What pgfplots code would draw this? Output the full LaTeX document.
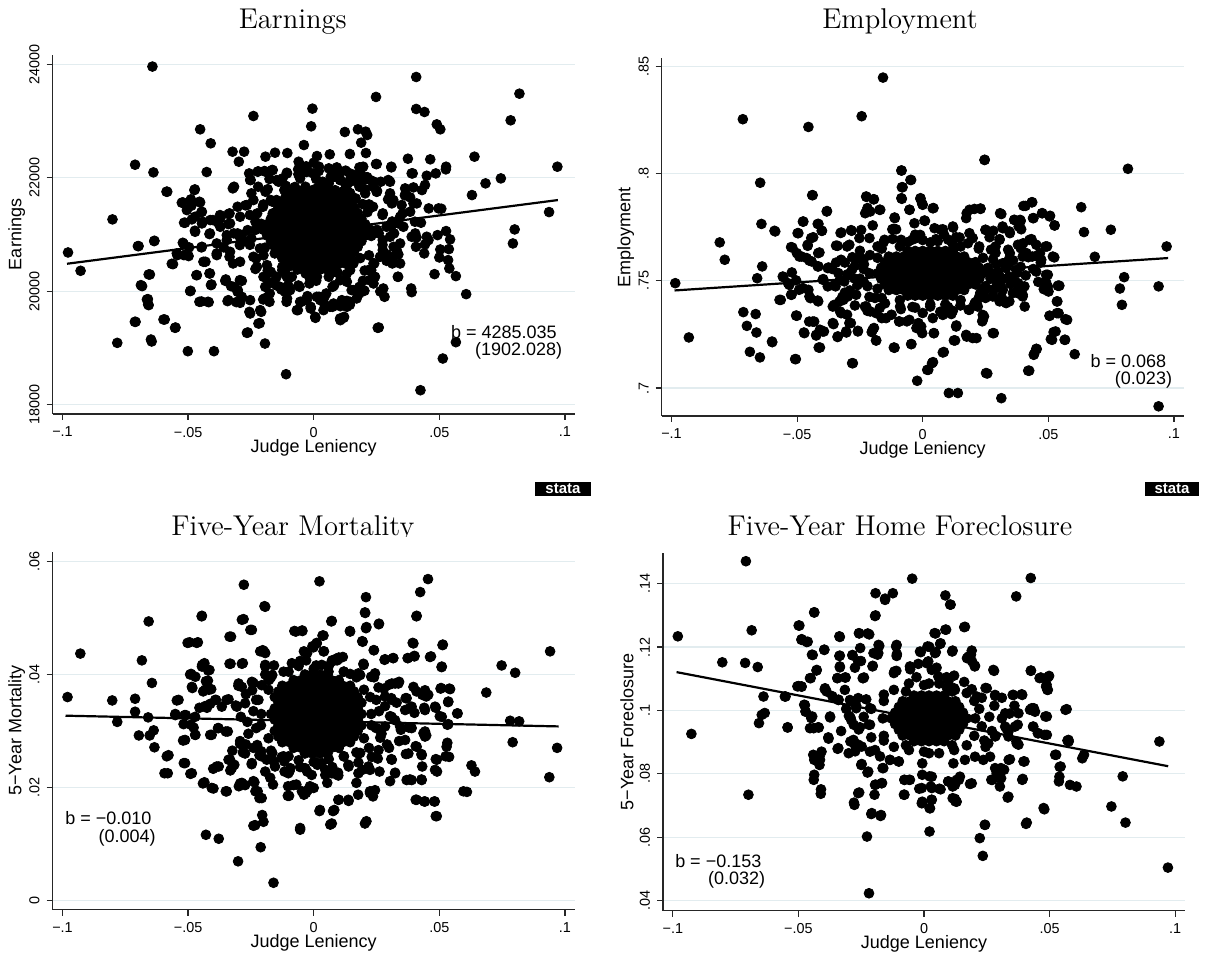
\documentclass[border=0pt]{standalone}
\usepackage{fontspec}
\usepackage{pgfplots}
\pgfplotsset{compat=1.18}
\newfontfamily\hv{Liberation Sans}
\definecolor{gridc}{RGB}{226,236,239}
\tikzset{ann/.style={font=\hv\fontsize{9}{10}\selectfont, anchor=east, inner sep=0pt}}
\pgfplotsset{
 stpanel/.style={
  scale only axis, width=261pt, height=178.85pt,
  axis x line*=bottom, axis y line*=left,
  axis line style={line width=0.65pt, black!85},
  xmin=-0.1039, xmax=0.1039,
  scaled x ticks=false, scaled y ticks=false,
  xtick={-0.1,-0.05,0,0.05,0.1},
  xticklabels={{−.1},{−.05},0,.05,.1},
  tick align=outside, major tick length=3pt,
  tick style={line width=0.6pt, black!85},
  ymajorgrids, major grid style={gridc, line width=0.6pt},
  ticklabel style={font=\hv\fontsize{7.2}{8}\selectfont},
  yticklabel style={rotate=90, anchor=south},
  label style={font=\hv\fontsize{9}{10}\selectfont},
  xlabel={Judge Leniency},
  xlabel style={at={(axis description cs:0.5,-0.094)}, anchor=center},
  ylabel style={at={(axis description cs:-0.069,0.5)}, anchor=center},
 },
 dots/.style={only marks, mark=*, mark size=2.45pt, mark options={fill=black, draw=none}},
 fitl/.style={black, line width=1.1pt, no marks},
}
\begin{document}
\begin{tikzpicture}
% ---------------- Panel 1: Earnings
\begin{axis}[stpanel, at={(26.35pt,271pt)}, anchor=south west, height=179.5pt,
 ymin=17834, ymax=24164, ytick={18000,20000,22000,24000},
 yticklabels={18000,20000,22000,24000}, ylabel={Earnings}]
\addplot[dots] coordinates {
(-0.0642,23960) (0.0408,23776) (0.0248,23424) (0.0819,23482) (-0.0005,23218) (0.0408,23212) (0.0441,23159) (-0.024,23088) (0.0784,23012) (-0.001,22906) (0.049,22941) (0.0504,22853) (-0.0452,22853) (0.0124,22806) (0.0176,22853) (0.0207,22812) (0.0213,22753) (-0.041,22606) (-0.0039,22576) (0.0189,22618) (-0.0323,22459) (-0.0277,22459) (-0.0154,22441) (-0.0105,22435) (-0.0298,22282) (-0.0192,22371) (0.0064,22412) (0.0144,22418) (0.0208,22435) (0.0013,22382) (-0.006,22282) (0,22265) (0.0375,22335) (0.0464,22324) (0.064,22371) (-0.0711,22229) (-0.0638,22094) (-0.0426,22100) (0.0251,22241) (0.0309,22194) (0.0186,22176) (0.0394,22076) (0.0527,22194) (0.0526,22147) (0.0486,22076) (0.045,22035) (0.097,22194) (0.0745,21988) (0.0684,21900) (0.063,21694) (0.0937,21394) (0.08,21088) (0.0793,20841) (0.0566,20265) (0.0607,19947) (0.039,19982) (0.0336,20253) (0.0265,19994) (0.0282,19900) (0.0202,20006) (0.0259,19359) (0.0566,19100) (0.0514,18812) (0.0425,18253) (-0.011,18535) (-0.0194,19076) (-0.0262,19271) (-0.0215,19435) (-0.0253,19606) (-0.0209,19635) (-0.0063,19665) (0.0007,19529) (-0.0012,19694) (0.0075,19724) (0.0106,19735) (0.0119,19529) (0.0106,19488) (0.0144,19759) (0.0132,19829) (0.0026,19841) (0.0044,19912) (-0.0049,19812) (-0.0025,19912) (0.0021,19900) (-0.0106,19871) (-0.0108,19812) (-0.0201,19853) (-0.0129,20029) (-0.0175,19959) (-0.0102,20106) (-0.0148,20100) (-0.0308,19806) (-0.0286,19900) (-0.034,19841) (-0.0302,20018) (-0.0294,20194) (-0.035,20206) (-0.0329,20088) (-0.0397,18941) (-0.0501,18941) (-0.055,19359) (-0.0593,19500) (-0.0645,19112) (-0.0782,19088) (-0.0709,19459) (-0.0657,19753) (-0.066,19859) (-0.0683,20088) (-0.0652,20294) (-0.0447,19818) (-0.0418,19806) (-0.049,20006) (-0.0407,20118) (-0.0467,20282) (-0.0413,20312) (-0.0431,20518) (-0.056,20476) (-0.0543,20635) (-0.0517,20635) (-0.0447,20771) (-0.0386,20665) (-0.0335,20606) (-0.0321,20488) (-0.0413,21018) (-0.0517,20829) (-0.0496,20771) (-0.0697,20794) (-0.0634,20888) (-0.0928,20359) (-0.0978,20682) (-0.0801,21265) (-0.0583,21753) (-0.0521,21565) (-0.049,21588) (-0.0452,21565) (-0.0487,21506) (-0.0473,21794) (-0.0447,21394) (-0.0512,21206) (-0.0472,21312) (-0.0473,21065) (-0.0442,21224) (-0.0401,21253) (-0.0382,21212) (-0.0335,21371) (-0.0373,21341) (-0.034,21182) (-0.0317,21841) (-0.0318,21018) (-0.0346,20988) (-0.0294,20812) (-0.0262,20876) (-0.0358,20771) (-0.0251,21959) (-0.0248,21724) (-0.0221,21841) (-0.0192,21753) (-0.024,21606) (-0.0257,22076) (-0.0223,22106) (-0.0163,22135) (-0.0192,22106) (-0.014,21929) (-0.0124,21988) (-0.0106,22076) (-0.0117,21782) (-0.0148,21606) (-0.0062,22147) (-0.0056,22018) (-0.0025,22135)
(0.0363,21688) (0.0397,21547) (0.0431,21782) (0.0443,21871) (0.0458,21459) (0.0497,21459) (0.0508,21453) (0.0427,21206) (0.0404,21018) (0.0409,20947) (0.045,20959) (0.0457,20900) (0.0443,20824) (0.044,20665) (0.0493,20988) (0.0527,21059) (0.0543,20912) (0.0504,20735) (0.0538,20741) (0.05,20594) (0.0535,20547) (0.054,20400) (0.0481,20300) (0.0337,21194) (0.032,21018) (0.0354,21371) (0.0311,21547) (0.0296,21618) (0.0337,20647) (0.0318,20782) (0.0275,20724) (0.0241,20488) (0.0229,20371) (0.0244,20253) (0.0222,20194) (0.0182,20076) (0.0151,20018) (0.0182,19959) (0.029,20535) (0.0313,20488) (0.0366,21724) (0.0297,21959) (0.0267,21929) (0.0236,21841) (0.0251,21753) (0.0205,21724) (0.0225,21959) (0.019,22047) (0.0144,21959) (0.0106,21959) (0.0075,22006) (0.006,21900) (0.0113,21753) (0.0167,21635) (0.0195,21535) (0.0236,21488) (0.0275,21371) (0.029,21135) (0.0259,21018) (0.0229,21076) (0.0275,20900) (0.0305,21135)
(0.0144,22076) (0.0175,21929) (0.0197,22194) (0.0106,22100) (0.016,22050) (0.0213,22010) (0.0128,21870)
(-0.0171,21606) (-0.0202,21488) (-0.0225,21371) (-0.0232,21224) (-0.0263,21076) (-0.0286,20988) (-0.0248,20929) (-0.0214,20753) (-0.0229,20576) (-0.0186,20459) (-0.0171,20341) (-0.0192,20253) (-0.0148,20253) (-0.0125,20371) (-0.0087,20253) (-0.0102,20429) (-0.0178,20135) (-0.0109,20547) (-0.0155,20665) (-0.014,21488) (-0.0117,21606) (-0.0163,21371) (-0.0186,21135)
(-0.0032,20312) (0.0013,20253) (0.006,20253) (0.009,20341) (0.0106,20194) (-0.0017,20135) (-0.0056,20076) (0.0075,20076)
(-0.0078,21782) (-0.0033,21841) (0.0013,21812) (0.0052,21782) (0.009,21724) (0.0136,21753) (0.0182,21841) (-0.0102,21694) (-0.0017,21665) (0.0036,21929) (-0.0002,22076) (0.006,22165) (0.0083,22029) (0.0021,22194)
};
\addplot[dots] coordinates {
(-0.0221,22112) (-0.0196,22118) (-0.0166,22135) (-0.0107,22088) (-0.0028,22100) (0.002,22118) (0.0092,22182) (0.0182,22182) (0.0248,22241) (0.0309,22182) (0.039,22076)
(-0.0253,21959) (-0.0147,21959) (-0.0054,21988) (0.0068,22018) (0.0105,21959) (0.0145,21929) (0.0179,21929) (0.0206,21971) (0.024,21929) (0.0304,21929) (0.0364,21812) (0.0397,21829) (-0.0322,21812) (-0.0475,21782) (-0.0586,21753) (0.0251,21753) (0.0304,21724)
(-0.0525,21559) (-0.0489,21618) (-0.0455,21576) (-0.0505,21429) (-0.0372,21282) (-0.0339,21359) (-0.0303,21488) (-0.0266,21518) (0.0317,21606) (0.035,21518) (0.0384,21653) (0.041,21547)
(-0.0516,21206) (-0.0485,21265) (-0.0445,21400) (-0.0412,21253) (-0.0445,21194) (-0.0372,21135) (-0.0333,21194) (-0.0293,21312) (0.0344,21312) (0.0384,21400) (0.0403,21224) (0.0311,21165) (0.0357,21135)
(-0.0472,21047) (-0.0415,21006) (-0.0521,20853) (-0.0635,20882) (-0.07,20794) (-0.0445,20782) (-0.0386,20841) (-0.0346,20900) (-0.0303,21018) (0.0304,20959) (0.0344,20841) (0.039,20959) (0.0407,20782) (0.033,20724)
(-0.0545,20665) (-0.0498,20618) (-0.0386,20635) (-0.0333,20694) (-0.0439,20518) (-0.0293,20518) (-0.024,20606) (0.0264,20606) (0.0317,20606) (0.0344,20488) (0.0238,20488) (0.0218,20371) (0.0158,20488) (0.0145,20371)
(-0.0565,20482) (-0.0465,20282) (-0.0415,20312) (-0.0657,20294) (-0.0409,20106) (-0.0352,20182) (-0.0319,20076) (-0.0286,20182) (-0.0226,20429) (-0.02,20253) (-0.0193,20076) (-0.016,20165) (-0.0134,20076) (-0.0107,20253) (-0.0094,20018) (0.0132,20165) (0.0158,20018) (0.0198,20018) (0.0238,20135) (0.0277,20047) (0.0335,20253) (0.0388,20047)
(-0.0688,20106) (-0.0492,20000) (-0.0455,19812) (-0.0421,19812) (-0.0343,19824) (-0.0303,19988) (-0.0293,19794) (-0.0253,19841) (-0.0196,19871) (-0.0176,19812) (-0.0114,19988) (-0.0054,19812) (-0.0028,19841) (0.0012,19900) (0.0039,19812) (0.0079,19782) (0.0112,19841) (0.0145,19812) (0.0171,19871)
(-0.0664,19853) (-0.0659,19765) (-0.0712,19459) (-0.0598,19500) (-0.0552,19353) (-0.0256,19635) (-0.0213,19665) (-0.022,19429) (-0.0266,19265) (-0.0067,19665) (-0.0012,19724) (0.0006,19547) (0.0039,19665) (0.0065,19724) (0.0105,19518) (0.0121,19547) (0.0132,19724) (0.0255,19353) (-0.0648,19147)
(0.0252,21080) (0.0274,21343) (0.0220,21529) (0.0203,21797) (0.0131,21857) (0.0081,22060) (0.001,21977) (-0.0061,22060) (-0.0111,21857) (-0.0183,21797) (-0.0200,21529) (-0.0254,21343) (-0.0232,21080) (-0.0254,20817) (-0.0200,20632) (-0.0183,20363) (-0.0111,20303) (-0.0061,20100) (0.001,20183) (0.0081,20100) (0.0131,20303) (0.0203,20363) (0.0220,20632) (0.0274,20817)
(0.0312,21228) (0.0252,21769) (0.0127,22125) (-0.003,22201) (-0.0176,21977) (-0.0272,21513) (-0.0292,20932) (-0.0232,20391) (-0.0107,20035) (0.005,19959) (0.0196,20183) (0.0292,20647)
(0.0214,21393) (0.0145,21730) (0.0039,21892) (-0.0075,21837) (-0.0165,21578) (-0.0209,21187) (-0.0194,20767) (-0.0125,20430) (-0.0019,20268) (0.0095,20323) (0.0185,20582) (0.0229,20973)
};
\addplot[dots] coordinates {
(-0.020,21080) (-0.017,21080) (-0.014,21080) (-0.011,21080) (-0.008,21080) (-0.005,21080) (-0.002,21080) (0.001,21080) (0.004,21080) (0.007,21080) (0.010,21080) (0.013,21080) (0.016,21080) (0.019,21080) (0.022,21080)
(-0.0185,21180) (-0.0155,21180) (-0.0125,21180) (-0.0095,21180) (-0.0065,21180) (-0.0035,21180) (-0.0005,21180) (0.0025,21180) (0.0055,21180) (0.0085,21180) (0.0115,21180) (0.0145,21180) (0.0175,21180) (0.0205,21180)
(-0.0185,20980) (-0.0155,20980) (-0.0125,20980) (-0.0095,20980) (-0.0065,20980) (-0.0035,20980) (-0.0005,20980) (0.0025,20980) (0.0055,20980) (0.0085,20980) (0.0115,20980) (0.0145,20980) (0.0175,20980) (0.0205,20980)
(-0.017,21280) (-0.014,21280) (-0.011,21280) (-0.008,21280) (-0.005,21280) (-0.002,21280) (0.001,21280) (0.004,21280) (0.007,21280) (0.010,21280) (0.013,21280) (0.016,21280) (0.019,21280)
(-0.017,20880) (-0.014,20880) (-0.011,20880) (-0.008,20880) (-0.005,20880) (-0.002,20880) (0.001,20880) (0.004,20880) (0.007,20880) (0.010,20880) (0.013,20880) (0.016,20880) (0.019,20880)
(-0.0155,21380) (-0.0125,21380) (-0.0095,21380) (-0.0065,21380) (-0.0035,21380) (-0.0005,21380) (0.0025,21380) (0.0055,21380) (0.0085,21380) (0.0115,21380) (0.0145,21380) (0.0175,21380)
(-0.0155,20780) (-0.0125,20780) (-0.0095,20780) (-0.0065,20780) (-0.0035,20780) (-0.0005,20780) (0.0025,20780) (0.0055,20780) (0.0085,20780) (0.0115,20780) (0.0145,20780) (0.0175,20780)
(-0.014,21480) (-0.011,21480) (-0.008,21480) (-0.005,21480) (-0.002,21480) (0.001,21480) (0.004,21480) (0.007,21480) (0.010,21480) (0.013,21480) (0.016,21480)
(-0.014,20680) (-0.011,20680) (-0.008,20680) (-0.005,20680) (-0.002,20680) (0.001,20680) (0.004,20680) (0.007,20680) (0.010,20680) (0.013,20680) (0.016,20680)
(-0.0125,21580) (-0.0095,21580) (-0.0065,21580) (-0.0035,21580) (-0.0005,21580) (0.0025,21580) (0.0055,21580) (0.0085,21580) (0.0115,21580) (0.0145,21580)
(-0.0125,20580) (-0.0095,20580) (-0.0065,20580) (-0.0035,20580) (-0.0005,20580) (0.0025,20580) (0.0055,20580) (0.0085,20580) (0.0115,20580) (0.0145,20580)
(-0.011,21680) (-0.008,21680) (-0.005,21680) (-0.002,21680) (0.001,21680) (0.004,21680) (0.007,21680) (0.010,21680) (0.013,21680)
(-0.011,20480) (-0.008,20480) (-0.005,20480) (-0.002,20480) (0.001,20480) (0.004,20480) (0.007,20480) (0.010,20480) (0.013,20480)
(-0.0065,21780) (-0.0035,21780) (-0.0005,21780) (0.0025,21780) (0.0055,21780) (0.0085,21780)
(-0.0065,20380) (-0.0035,20380) (-0.0005,20380) (0.0025,20380) (0.0055,20380) (0.0085,20380)
};
\addplot[fitl] coordinates {(-0.0982,20483) (0.0972,21606)};
\node[ann] at (axis cs:0.0969,19283) {b = 4285.035};
\node[ann] at (axis cs:0.0991,18941) {(1902.028)};
\end{axis}
% ---------------- Panel 2: Employment
\begin{axis}[stpanel, at={(330.85pt,270pt)}, anchor=south west,
 ymin=0.687, ymax=0.8537, ytick={0.7,0.75,0.8,0.85},
 yticklabels={.7,.75,.8,.85}, ylabel={Employment}]
\addplot[dots] coordinates {
(-0.0158,0.8447) (-0.0716,0.8253) (-0.0243,0.8267) (-0.0455,0.8217) (0.0247,0.8064) (0.0817,0.8022) (-0.0084,0.8014) (-0.0046,0.797) (-0.0647,0.7957) (-0.008,0.7936) (-0.0438,0.7899) (-0.0224,0.7891) (-0.0194,0.788) (-0.0083,0.7882) (-0.0009,0.7882) (-0.0002,0.7859) (-0.0052,0.7831) (0.0043,0.7839) (-0.0381,0.7825) (-0.0169,0.7831) (-0.022,0.7839) (-0.0209,0.7823) (0.0631,0.7843) (0.0401,0.7849) (0.0436,0.7866) (0.0313,0.7811) (0.0175,0.7815) (0.0206,0.7835) (0.023,0.7835) (0.0476,0.7815) (0.0507,0.7803) (0.0441,0.7792) (0.0364,0.7784) (0.039,0.7779) (0.0525,0.7758) (-0.0111,0.7792) (0.0009,0.7779) (-0.0642,0.7765) (-0.0415,0.7765) (0.0642,0.7727) (0.0749,0.7738) (-0.0587,0.773) (-0.0324,0.7725) (-0.0283,0.7733) (-0.0495,0.7722) (-0.0401,0.7733) (-0.0121,0.774) (-0.0106,0.774) (0.0121,0.7748) (0.0072,0.7738) (0.0347,0.7722) (0.0382,0.7753) (0.0318,0.7753) (0.0281,0.7733) (0.025,0.7738) (-0.0475,0.7776) (-0.0436,0.7703) (-0.0458,0.7663) (-0.0519,0.7655) (-0.0808,0.7679) (-0.0788,0.7598) (-0.0339,0.7663) (-0.0301,0.766) (0.0685,0.7612) (0.0971,0.766) (0.0802,0.7517) (0.0785,0.7464) (0.0793,0.7388) (0.0939,0.7474) (0.0939,0.6915) (0.0605,0.7158) (0.0567,0.7225) (0.0575,0.7318) (0.0521,0.7261) (0.051,0.7228) (0.0505,0.7337) (0.0541,0.7349) (0.0536,0.7404) (0.0544,0.7477) (0.0501,0.745) (0.0482,0.7461) (0.0498,0.7528) (0.049,0.7497) (0.0495,0.766) (0.0524,0.7609) (0.0452,0.7183) (0.0444,0.716) (0.0424,0.7081) (0.0406,0.738) (0.0359,0.7443) (0.0398,0.7435) (0.0333,0.7402) (0.0283,0.7461) (0.0313,0.7427) (0.0257,0.7068) (0.0313,0.6953) (0.0283,0.7256) (0.0237,0.7311) (0.0244,0.7334) (0.0214,0.7233) (0.0175,0.724) (0.0229,0.7443) (0.0183,0.7365) (0.0206,0.7393) (0.014,0.6977) (0.0104,0.6977) (0.0129,0.7222) (0.0084,0.7168) (0.0041,0.7121) (0.0022,0.7085) (-0.0022,0.7034) (-0.0045,0.7205) (0.0134,0.7292) (0.0114,0.7345) (0.0083,0.735) (0.0045,0.7256) (-0.0002,0.7256) (-0.0025,0.728) (-0.0017,0.7303) (-0.0063,0.7311) (-0.0094,0.7311) (-0.0124,0.7342) (-0.0163,0.7326) (-0.0171,0.7373) (-0.0209,0.7357) (-0.023,0.738) (-0.0194,0.728) (-0.0203,0.7261) (-0.0186,0.7222) (-0.0112,0.7188) (-0.0278,0.7116) (-0.0258,0.7267) (-0.0286,0.7303) (-0.0304,0.7259) (-0.0339,0.7238) (-0.0355,0.7298) (-0.0352,0.7388) (-0.0329,0.7357) (-0.0301,0.7342) (-0.0316,0.7411) (-0.0409,0.7272) (-0.0424,0.7245) (-0.0393,0.7264) (-0.0409,0.7189) (-0.0432,0.731) (-0.0452,0.731) (-0.0473,0.7259) (-0.0501,0.7337) (-0.0505,0.7135) (-0.0416,0.7404) (-0.0447,0.7419) (-0.0455,0.7458) (-0.0492,0.7458) (-0.0522,0.7435) (-0.0565,0.7411) (-0.0555,0.7517) (-0.0536,0.7489) (-0.0504,0.7502) (-0.0521,0.7539) (-0.0482,0.7613) (-0.0501,0.7629) (-0.0462,0.7606) (-0.0442,0.759) (-0.0416,0.7629) (-0.0415,0.7567) (-0.0375,0.7562) (-0.0396,0.7508) (-0.0378,0.7474) (-0.0336,0.7536) (-0.0347,0.7474) (-0.0659,0.7512) (-0.0639,0.7567) (-0.0714,0.7354) (-0.0665,0.7345) (-0.07,0.729) (-0.0662,0.7259) (-0.0688,0.7169) (-0.0648,0.7143) (-0.0599,0.7214) (-0.0931,0.7236) (-0.0985,0.7489) (0.0347,0.7629) (0.0344,0.7582) (0.0375,0.7536) (0.038,0.7489) (0.039,0.7652) (0.0413,0.7629) (0.0436,0.7613) (0.0452,0.7668) (0.0433,0.7694) (0.0467,0.7629) (0.0306,0.7691) (0.029,0.766) (0.0375,0.745) (0.0344,0.752)
(-0.012,0.7695) (-0.006,0.768) (0,0.769) (0.006,0.7685) (0.012,0.767) (0.018,0.7675) (0.0225,0.766) (-0.018,0.766) (-0.003,0.7715) (0.0085,0.7715)
(-0.015,0.7395) (-0.009,0.738) (-0.003,0.7375) (0.003,0.738) (0.009,0.739) (0.015,0.7385) (0.021,0.740) (0.025,0.742) (-0.019,0.742) (0,0.735) (0.012,0.736)
(-0.0235,0.7555) (-0.025,0.751) (-0.022,0.7475) (-0.0235,0.760) (-0.027,0.757) (-0.026,0.748) (-0.03,0.753) (-0.029,0.7455) (-0.028,0.761)
(0.026,0.756) (0.027,0.751) (0.025,0.7475) (0.028,0.760) (0.030,0.754) (0.031,0.748) (0.029,0.763) (0.033,0.757) (0.032,0.751)
(-0.031,0.7585) (-0.028,0.7555) (-0.033,0.7505) (-0.0265,0.7435) (-0.031,0.7445) (-0.036,0.7555) (-0.025,0.764) (-0.021,0.762) (-0.022,0.736) (-0.027,0.7385) (-0.032,0.7425)
(0.036,0.7595) (0.039,0.7565) (0.041,0.7525) (0.035,0.7485) (0.038,0.746) (0.042,0.761) (0.044,0.7555) (0.046,0.7495) (0.047,0.7585) (0.034,0.7645) (0.04,0.7675)
};
\addplot[dots] coordinates {
(-0.0085,0.8014) (-0.0049,0.7970) (-0.0083,0.7936) (-0.0085,0.7885) (-0.0009,0.7885) (0.0000,0.7854) (-0.0053,0.7831) (0.0040,0.7838) (-0.0112,0.7795) (0.0007,0.7781) (-0.0033,0.7768) (-0.0116,0.7742) (-0.0225,0.7893) (-0.0196,0.7880) (-0.0219,0.7831) (-0.0172,0.7831) (-0.0229,0.7815) (-0.0382,0.7823) (-0.0440,0.7899) (-0.0477,0.7776) (-0.0418,0.7765) (-0.0498,0.7722) (-0.0402,0.7733) (-0.0327,0.7723) (-0.0285,0.7736) (-0.0245,0.7737) (-0.0199,0.7758) (0.0246,0.8063) (0.0186,0.7831) (0.0230,0.7837) (0.0173,0.7792) (0.0308,0.7815) (0.0365,0.7784) (0.0388,0.7784) (0.0434,0.7866) (0.0409,0.7849) (0.0475,0.7815) (0.0505,0.7800) (0.0439,0.7792) (0.0525,0.7758) (0.0319,0.7745) (0.0345,0.7730) (0.0392,0.7740) (0.0250,0.7737) (0.0186,0.7722) (0.0120,0.7753) (0.0080,0.7740) (0.0047,0.7745)
(-0.0590,0.7733) (-0.0524,0.7657) (-0.0444,0.7699) (-0.0458,0.7668) (-0.0411,0.7632) (-0.0491,0.7613) (-0.0451,0.7594) (-0.0345,0.7664) (-0.0292,0.7668) (-0.0252,0.7699) (-0.0212,0.7699) (-0.0152,0.7691) (-0.0086,0.7691) (-0.0026,0.7699) (0.0053,0.7694) (0.0133,0.7703) (0.0199,0.7699) (0.0266,0.7703) (0.0306,0.7694) (0.0379,0.7668) (0.0425,0.7691) (0.0489,0.7660) (0.0398,0.7613) (0.0452,0.7616) (0.0518,0.7613) (0.0472,0.7598)
(-0.0557,0.7520) (-0.0531,0.7481) (-0.0477,0.7466) (-0.0418,0.7567) (-0.0378,0.7559) (-0.0345,0.7585) (-0.0325,0.7598) (-0.0398,0.7505) (-0.0351,0.7481) (-0.0312,0.7497) (-0.0570,0.7411) (-0.0524,0.7435) (-0.0451,0.7427) (-0.0418,0.7408) (-0.0358,0.7380) (-0.0331,0.7404) (-0.0298,0.7427)
(0.0319,0.7582) (0.0372,0.7551) (0.0345,0.7605) (0.0306,0.7520) (0.0359,0.7505) (0.0405,0.7474) (0.0452,0.7543) (0.0491,0.7528) (0.0498,0.7474) (0.0538,0.7477) (0.0379,0.7442) (0.0398,0.7427) (0.0319,0.7458) (0.0345,0.7404) (0.0252,0.7458) (0.0279,0.7427) (0.0306,0.7404)
(-0.0504,0.7338) (-0.0438,0.7310) (-0.0471,0.7256) (-0.0424,0.7248) (-0.0398,0.7264) (-0.0358,0.7303) (-0.0338,0.7241) (-0.0305,0.7264) (-0.0258,0.7264) (-0.0292,0.7303) (-0.0325,0.7349) (-0.0199,0.7272) (-0.0185,0.7222) (-0.0225,0.7380) (-0.0185,0.7349) (-0.0146,0.7326) (-0.0093,0.7310) (-0.0053,0.7318) (-0.0006,0.7287) (0.0040,0.7326) (0.0080,0.7341) (0.0107,0.7365) (0.0133,0.7287) (0.0173,0.7248) (0.0199,0.7233) (0.0186,0.7365) (0.0219,0.7380) (0.0239,0.7341) (0.0239,0.7318) (0.0279,0.7256) (0.0332,0.7396)
(-0.0600,0.7217) (-0.0414,0.7189) (-0.0508,0.7135) (-0.0281,0.7116) (-0.0115,0.7189) (-0.0046,0.7205) (0.0044,0.7256) (0.0124,0.7222) (0.0080,0.7166) (0.0037,0.7116) (0.0018,0.7085) (0.0252,0.7070) (0.0420,0.7081) (0.0442,0.7155) (0.0454,0.7182) (0.0515,0.7225) (0.0529,0.7264) (0.0565,0.7225) (0.0568,0.7321) (0.0505,0.7337) (0.0534,0.7349) (0.0534,0.7404) (0.0541,0.7477) (0.0491,0.7458)
(0.0272,0.7535) (0.0294,0.7577) (0.0240,0.7607) (0.0223,0.7650) (0.0151,0.7660) (0.0101,0.7692) (0.003,0.7679) (-0.0041,0.7692) (-0.0091,0.7660) (-0.0163,0.7650) (-0.0180,0.7607) (-0.0234,0.7577) (-0.0212,0.7535) (-0.0234,0.7493) (-0.0180,0.7463) (-0.0163,0.7420) (-0.0091,0.7410) (-0.0041,0.7378) (0.003,0.7391) (0.0101,0.7378) (0.0151,0.7410) (0.0223,0.7420) (0.0240,0.7463) (0.0294,0.7493)
(0.0332,0.7559) (0.0272,0.7645) (0.0147,0.7702) (-0.001,0.7714) (-0.0156,0.7679) (-0.0252,0.7604) (-0.0272,0.7511) (-0.0212,0.7425) (-0.0087,0.7368) (0.007,0.7356) (0.0216,0.7391) (0.0312,0.7466)
};
\addplot[dots] coordinates {
(-0.018,0.7535) (-0.015,0.7535) (-0.012,0.7535) (-0.009,0.7535) (-0.006,0.7535) (-0.003,0.7535) (0,0.7535) (0.003,0.7535) (0.006,0.7535) (0.009,0.7535) (0.012,0.7535) (0.015,0.7535) (0.018,0.7535) (0.021,0.7535) (0.024,0.7535)
(-0.0165,0.7561) (-0.0135,0.7561) (-0.0105,0.7561) (-0.0075,0.7561) (-0.0045,0.7561) (-0.0015,0.7561) (0.0015,0.7561) (0.0045,0.7561) (0.0075,0.7561) (0.0105,0.7561) (0.0135,0.7561) (0.0165,0.7561) (0.0195,0.7561) (0.0225,0.7561)
(-0.0165,0.7509) (-0.0135,0.7509) (-0.0105,0.7509) (-0.0075,0.7509) (-0.0045,0.7509) (-0.0015,0.7509) (0.0015,0.7509) (0.0045,0.7509) (0.0075,0.7509) (0.0105,0.7509) (0.0135,0.7509) (0.0165,0.7509) (0.0195,0.7509) (0.0225,0.7509)
(-0.015,0.7587) (-0.012,0.7587) (-0.009,0.7587) (-0.006,0.7587) (-0.003,0.7587) (0,0.7587) (0.003,0.7587) (0.006,0.7587) (0.009,0.7587) (0.012,0.7587) (0.015,0.7587) (0.018,0.7587) (0.021,0.7587)
(-0.015,0.7483) (-0.012,0.7483) (-0.009,0.7483) (-0.006,0.7483) (-0.003,0.7483) (0,0.7483) (0.003,0.7483) (0.006,0.7483) (0.009,0.7483) (0.012,0.7483) (0.015,0.7483) (0.018,0.7483) (0.021,0.7483)
(-0.0135,0.7613) (-0.0105,0.7613) (-0.0075,0.7613) (-0.0045,0.7613) (-0.0015,0.7613) (0.0015,0.7613) (0.0045,0.7613) (0.0075,0.7613) (0.0105,0.7613) (0.0135,0.7613) (0.0165,0.7613)
(-0.0135,0.7457) (-0.0105,0.7457) (-0.0075,0.7457) (-0.0045,0.7457) (-0.0015,0.7457) (0.0015,0.7457) (0.0045,0.7457) (0.0075,0.7457) (0.0105,0.7457) (0.0135,0.7457) (0.0165,0.7457)
(-0.006,0.7639) (-0.003,0.7639) (0,0.7639) (0.003,0.7639) (0.006,0.7639) (0.009,0.7639) (0.012,0.7639)
(-0.006,0.7431) (-0.003,0.7431) (0,0.7431) (0.003,0.7431) (0.006,0.7431) (0.009,0.7431) (0.012,0.7431)
};
\addplot[fitl] coordinates {(-0.0988,0.7455) (0.0977,0.7606)};
\node[ann] at (axis cs:0.0971,0.7127) {b = 0.068};
\node[ann] at (axis cs:0.0994,0.7039) {(0.023)};
\end{axis}
% ---------------- Panel 3: Mortality
\begin{axis}[stpanel, at={(26.35pt,23.15pt)}, anchor=south west,
 ymin=-0.00167, ymax=0.0617, ytick={0,0.02,0.04,0.06},
 yticklabels={0,.02,.04,.06}, ylabel={5−Year Mortality}]
\addplot[dots] coordinates {
(-0.098,0.036) (-0.0929,0.0437) (-0.0802,0.0354) (-0.0782,0.0316) (-0.0711,0.0357) (-0.0684,0.0425) (-0.0711,0.0334) (-0.0657,0.0494) (-0.0696,0.0292) (-0.0659,0.0324) (-0.0653,0.0292) (-0.0644,0.0385) (-0.0637,0.0301) (-0.0634,0.0271) (-0.0585,0.0255) (-0.0594,0.0225) (-0.0545,0.0354) (-0.0551,0.033) (-0.052,0.0283) (-0.0517,0.0243) (-0.0491,0.0224) (-0.0502,0.0456) (-0.0466,0.0456) (-0.0492,0.04) (-0.0483,0.0376) (-0.0471,0.0396) (-0.0446,0.0503) (-0.0444,0.0417) (-0.042,0.0407) (-0.0429,0.0388) (-0.044,0.037) (-0.0417,0.0373) (-0.0412,0.0348) (-0.0425,0.0341) (-0.0455,0.0341) (-0.0514,0.0328) (-0.0489,0.0311) (-0.0471,0.0293) (-0.0412,0.0293) (-0.0381,0.0305) (-0.035,0.0299) (-0.0389,0.0355) (-0.0441,0.0207) (-0.0406,0.0199) (-0.04,0.0233) (-0.0378,0.0237) (-0.0429,0.0116) (-0.0378,0.0109) (-0.035,0.0193) (-0.0335,0.0419) (-0.0335,0.0467) (-0.0347,0.0355) (-0.0339,0.0249) (-0.0332,0.023) (-0.0316,0.024) (-0.0324,0.0265) (-0.0293,0.0282) (-0.0282,0.0262) (-0.0298,0.0202) (-0.0286,0.0208) (-0.0301,0.0069) (-0.0278,0.0559) (-0.0286,0.0497) (-0.0286,0.0419) (-0.0252,0.0479) (-0.024,0.0211) (-0.0232,0.0193) (-0.0216,0.0181) (-0.024,0.0132) (-0.0205,0.0151) (-0.0211,0.0094) (-0.016,0.0031) (-0.0196,0.0521) (-0.0213,0.0441) (-0.0198,0.0441) (-0.0193,0.0417) (-0.0193,0.04) (-0.0177,0.0391) (-0.0173,0.0217) (-0.0162,0.0205) (-0.0102,0.0202) (-0.0103,0.0185) (-0.0054,0.0125) (-0.0077,0.0477) (-0.0046,0.0478) (-0.0039,0.0441) (-0.0005,0.045) (0.0012,0.0456) (0.0023,0.0565) (0.0039,0.0441) (0.0035,0.0469) (0.007,0.0494) (0.0073,0.0425) (0.0093,0.0425) (0.01,0.043) (0.0144,0.0477) (0.0193,0.0459) (0.0198,0.0419) (0.0205,0.0509) (0.0208,0.0537) (0.0208,0.0482) (0.0239,0.0443) (0.0259,0.0489) (0.0282,0.0426) (0.0316,0.0429) (0.0375,0.0429) (0.0401,0.0432) (0.0424,0.0546) (0.0455,0.0569) (0.0409,0.0503) (0.0394,0.0456) (0.0463,0.0431) (0.0514,0.0453) (0.0509,0.0413) (0.0748,0.0416) (0.0802,0.0403) (0.0941,0.0441) (0.0687,0.0368) (0.0505,0.0375) (0.054,0.0375) (0.0535,0.0351) (0.0571,0.0331) (0.0782,0.0318) (0.0818,0.0317) (0.0792,0.028) (0.0969,0.027) (0.0938,0.0218) (0.061,0.0192) (0.0628,0.0239) (0.0642,0.0228) (0.0532,0.0279) (0.0525,0.0255) (0.0486,0.025) (0.0491,0.0228) (0.0502,0.0326) (0.0486,0.0341) (0.0532,0.0311) (0.0437,0.0296) (0.0448,0.0292) (0.0429,0.0259) (0.0432,0.0237) (0.0383,0.0214) (0.0429,0.0214) (0.0406,0.0178) (0.044,0.0175) (0.0482,0.0175) (0.0486,0.0149) (0.0406,0.0273) (0.0367,0.0259) (0.034,0.0282) (0.0347,0.0302) (0.0378,0.0306) (0.0383,0.0341) (0.0401,0.0332) (0.0366,0.0358) (0.0409,0.037) (0.0432,0.0364) (0.0448,0.0361) (0.044,0.0341) (0.0324,0.0384) (0.034,0.0387) (0.0301,0.0382) (0.0309,0.0358) (0.0304,0.0326) (0.0292,0.0276) (0.03,0.027) (0.0309,0.025) (0.0324,0.0226) (0.0304,0.0211) (0.0255,0.0251) (0.0262,0.0228) (0.0224,0.0231) (0.0224,0.0193) (0.0236,0.0184) (0.021,0.014) (0.0177,0.0187) (0.017,0.0208) (0.0139,0.0176) (0.01,0.0178) (0.0077,0.0158) (0.0066,0.0134) (0.0023,0.0158) (0,0.0199) (-0.0015,0.0202) (-0.0031,0.019) (-0.0039,0.0187) (-0.0069,0.0205) (-0.0026,0.0228) (0.0015,0.024) (0.0046,0.0231) (0.0054,0.0208) (0.0085,0.0224) (0.0097,0.0226) (0.0139,0.0237) (0.0193,0.0231) (-0.0093,0.0234) (-0.0116,0.0228) (-0.0117,0.0246) (-0.0159,0.0246) (-0.0193,0.0228) (-0.0208,0.0255) (-0.0247,0.0241) (-0.024,0.027) (-0.027,0.0276)
(-0.012,0.0405) (-0.006,0.0415) (0,0.041) (0.006,0.0415) (0.012,0.0405) (0.017,0.0395) (-0.017,0.0395) (-0.003,0.0425) (0.009,0.0428)
(-0.012,0.0255) (-0.006,0.0248) (0,0.0245) (0.006,0.025) (0.012,0.0255) (0.017,0.0262) (-0.017,0.0265)
(-0.022,0.0355) (-0.021,0.031) (-0.024,0.0335) (-0.027,0.0365) (-0.026,0.0295) (-0.029,0.0325) (-0.031,0.0345) (-0.03,0.038) (-0.024,0.0385) (-0.0225,0.0275)
(0.0225,0.036) (0.023,0.031) (0.026,0.0335) (0.028,0.0375) (0.027,0.0295) (0.031,0.0325) (0.033,0.035) (0.024,0.0395) (0.022,0.027)
};
\addplot[dots] coordinates {
(-0.0445,0.0504) (-0.0193,0.0520) (-0.0279,0.0498) (-0.0246,0.0479) (-0.0329,0.0467) (-0.0494,0.0457) (-0.0461,0.0457) (-0.0071,0.0476) (-0.0045,0.0477) (0.0039,0.0469) (0.0012,0.0455) (-0.0001,0.0448) (0.0041,0.0441) (-0.0034,0.0439) (0.0072,0.0495) (0.0145,0.0476) (0.0204,0.0510) (0.0210,0.0484) (0.0260,0.0490) (0.0195,0.0458) (0.0240,0.0443) (0.0410,0.0504) (0.0397,0.0455) (0.0513,0.0452) (0.0401,0.0433) (0.0374,0.0429) (0.0317,0.0429) (0.0284,0.0427) (0.0467,0.0432) (0.0510,0.0414) (0.0199,0.0417) (0.0098,0.0427) (0.0072,0.0423) (-0.0203,0.0443) (-0.0193,0.0438)
(-0.0488,0.0401) (-0.0445,0.0414) (-0.0415,0.0408) (-0.0435,0.0420) (-0.0485,0.0378) (-0.0421,0.0389) (-0.0432,0.0373) (-0.0408,0.0374) (-0.0331,0.0419) (-0.0282,0.0420) (-0.0193,0.0414) (-0.0087,0.0420) (0.0032,0.0417) (0.0059,0.0405) (0.0145,0.0401) (0.0178,0.0402) (0.0244,0.0402) (0.0311,0.0384) (0.0337,0.0384) (0.0397,0.0378) (0.0443,0.0372) (0.0456,0.0364) (0.0507,0.0376) (0.0543,0.0374) (0.0370,0.0358) (0.0258,0.0377) (-0.0246,0.0387) (-0.0286,0.0378) (-0.0299,0.0384) (-0.0207,0.0381) (-0.0180,0.0390)
(-0.0538,0.0355) (-0.0551,0.0328) (-0.0509,0.0328) (-0.0472,0.0325) (-0.0518,0.0312) (-0.0478,0.0306) (-0.0472,0.0293) (-0.0512,0.0284) (-0.0406,0.0293) (-0.0379,0.0305) (-0.0342,0.0299) (-0.0339,0.0356) (-0.0392,0.0355) (-0.0432,0.0344) (-0.0366,0.0343) (-0.0306,0.0343) (-0.0273,0.0349)
(0.0284,0.0361) (0.0311,0.0355) (0.0364,0.0337) (0.0390,0.0343) (0.0443,0.0337) (0.0483,0.0343) (0.0536,0.0352) (0.0573,0.0331) (0.0510,0.0325) (0.0536,0.0312) (0.0443,0.0299) (0.0390,0.0305) (0.0344,0.0308) (0.0324,0.0319) (0.0284,0.0308)
(-0.0578,0.0257) (-0.0581,0.0225) (-0.0512,0.0243) (-0.0485,0.0225) (-0.0435,0.0209) (-0.0399,0.0198) (-0.0346,0.0193) (-0.0386,0.0237) (-0.0333,0.0249) (-0.0326,0.0234) (-0.0293,0.0277) (-0.0273,0.0260) (-0.0246,0.0243) (-0.0216,0.0257) (-0.0187,0.0249) (-0.0154,0.0237) (-0.0127,0.0254) (-0.0101,0.0225) (-0.0080,0.0204) (-0.0034,0.0234) (-0.0008,0.0222) (0.0032,0.0243) (0.0072,0.0225) (0.0098,0.0221) (0.0138,0.0240) (0.0178,0.0225) (0.0218,0.0237) (0.0178,0.0260) (0.0231,0.0254) (0.0258,0.0266) (0.0311,0.0249) (0.0324,0.0225) (0.0364,0.0284) (0.0410,0.0272) (0.0430,0.0257) (0.0377,0.0260) (0.0370,0.0213) (0.0430,0.0213) (0.0390,0.0213) (0.0483,0.0231) (0.0490,0.0249) (0.0529,0.0272) (0.0539,0.0254) (0.0443,0.0290)
(-0.0293,0.0207) (-0.0273,0.0204) (-0.0236,0.0209) (-0.0223,0.0193) (-0.0207,0.0181) (-0.0098,0.0185) (-0.0047,0.0193) (-0.0024,0.0195) (0.0098,0.0178) (0.0138,0.0178) (0.0025,0.0160) (0.0082,0.0160) (0.0204,0.0136) (0.0224,0.0190) (0.0244,0.0195) (0.0410,0.0178) (0.0443,0.0175) (0.0480,0.0175) (0.0490,0.0149) (0.0596,0.0193) (-0.0200,0.0139) (-0.0233,0.0133) (0.0072,0.0136) (-0.0054,0.0128)
(0.0229,0.033) (0.0249,0.0355) (0.0200,0.0373) (0.0185,0.0399) (0.0120,0.0405) (0.0074,0.0424) (0.001,0.0416) (-0.0054,0.0424) (-0.0100,0.0405) (-0.0165,0.0399) (-0.0180,0.0373) (-0.0229,0.0355) (-0.0209,0.033) (-0.0229,0.0305) (-0.0180,0.0287) (-0.0165,0.0261) (-0.0100,0.0255) (-0.0054,0.0236) (0.001,0.0244) (0.0074,0.0236) (0.0120,0.0255) (0.0185,0.0261) (0.0200,0.0287) (0.0249,0.0305)
(0.0284,0.0344) (0.0229,0.0396) (0.0116,0.0431) (-0.0026,0.0438) (-0.0158,0.0416) (-0.0245,0.0372) (-0.0264,0.0316) (-0.0209,0.0264) (-0.0096,0.0229) (0.0046,0.0222) (0.0178,0.0244) (0.0265,0.0288)
};
\addplot[dots] coordinates {
(-0.017,0.033) (-0.014,0.033) (-0.011,0.033) (-0.008,0.033) (-0.005,0.033) (-0.002,0.033) (0.001,0.033) (0.004,0.033) (0.007,0.033) (0.010,0.033) (0.013,0.033) (0.016,0.033) (0.019,0.033)
(-0.0155,0.034) (-0.0125,0.034) (-0.0095,0.034) (-0.0065,0.034) (-0.0035,0.034) (-0.0005,0.034) (0.0025,0.034) (0.0055,0.034) (0.0085,0.034) (0.0115,0.034) (0.0145,0.034) (0.0175,0.034)
(-0.0155,0.032) (-0.0125,0.032) (-0.0095,0.032) (-0.0065,0.032) (-0.0035,0.032) (-0.0005,0.032) (0.0025,0.032) (0.0055,0.032) (0.0085,0.032) (0.0115,0.032) (0.0145,0.032) (0.0175,0.032)
(-0.014,0.035) (-0.011,0.035) (-0.008,0.035) (-0.005,0.035) (-0.002,0.035) (0.001,0.035) (0.004,0.035) (0.007,0.035) (0.010,0.035) (0.013,0.035) (0.016,0.035) (0.019,0.035)
(-0.014,0.031) (-0.011,0.031) (-0.008,0.031) (-0.005,0.031) (-0.002,0.031) (0.001,0.031) (0.004,0.031) (0.007,0.031) (0.010,0.031) (0.013,0.031) (0.016,0.031) (0.019,0.031)
(-0.0155,0.036) (-0.0125,0.036) (-0.0095,0.036) (-0.0065,0.036) (-0.0035,0.036) (-0.0005,0.036) (0.0025,0.036) (0.0055,0.036) (0.0085,0.036) (0.0115,0.036) (0.0145,0.036) (0.0175,0.036)
(-0.0155,0.030) (-0.0125,0.030) (-0.0095,0.030) (-0.0065,0.030) (-0.0035,0.030) (-0.0005,0.030) (0.0025,0.030) (0.0055,0.030) (0.0085,0.030) (0.0115,0.030) (0.0145,0.030) (0.0175,0.030)
(-0.014,0.037) (-0.011,0.037) (-0.008,0.037) (-0.005,0.037) (-0.002,0.037) (0.001,0.037) (0.004,0.037) (0.007,0.037) (0.010,0.037) (0.013,0.037) (0.016,0.037)
(-0.014,0.029) (-0.011,0.029) (-0.008,0.029) (-0.005,0.029) (-0.002,0.029) (0.001,0.029) (0.004,0.029) (0.007,0.029) (0.010,0.029) (0.013,0.029) (0.016,0.029)
(-0.0125,0.038) (-0.0095,0.038) (-0.0065,0.038) (-0.0035,0.038) (-0.0005,0.038) (0.0025,0.038) (0.0055,0.038) (0.0085,0.038) (0.0115,0.038) (0.0145,0.038)
(-0.0125,0.028) (-0.0095,0.028) (-0.0065,0.028) (-0.0035,0.028) (-0.0005,0.028) (0.0025,0.028) (0.0055,0.028) (0.0085,0.028) (0.0115,0.028) (0.0145,0.028)
(-0.008,0.039) (-0.005,0.039) (-0.002,0.039) (0.001,0.039) (0.004,0.039) (0.007,0.039) (0.010,0.039)
(-0.008,0.027) (-0.005,0.027) (-0.002,0.027) (0.001,0.027) (0.004,0.027) (0.007,0.027) (0.010,0.027)
(-0.0035,0.040) (-0.0005,0.040) (0.0025,0.040) (0.0055,0.040)
(-0.0035,0.026) (-0.0005,0.026) (0.0025,0.026) (0.0055,0.026)
};
\addplot[fitl] coordinates {(-0.0988,0.0327) (0.0975,0.0308)};
\node[ann] at (axis cs:-0.0644,0.0146) {b = −0.010};
\node[ann] at (axis cs:-0.0628,0.0110) {(0.004)};
\end{axis}
% ---------------- Panel 4: Foreclosure
\begin{axis}[stpanel, at={(331.5pt,22.65pt)}, anchor=south west,
 ymin=0.0368, ymax=0.1497, ytick={0.04,0.06,0.08,0.1,0.12,0.14},
 yticklabels={.04,.06,.08,.1,.12,.14}, ylabel={5−Year Foreclosure}]
\addplot[dots] coordinates {
(-0.098,0.1234) (-0.0926,0.0926) (-0.0803,0.1152) (-0.0712,0.115) (-0.0709,0.1471) (-0.0699,0.0734) (-0.0686,0.1253) (-0.0662,0.1137) (-0.0657,0.096) (-0.0639,0.1044) (-0.0646,0.0986) (-0.0634,0.0992) (-0.0551,0.1044) (-0.0543,0.0946) (-0.0499,0.1268) (-0.0504,0.1076) (-0.0488,0.1076) (-0.0488,0.1223) (-0.0467,0.1216) (-0.0477,0.1018) (-0.0472,0.0997) (-0.0449,0.0976) (-0.0454,0.1102) (-0.0446,0.1176) (-0.0437,0.1309) (-0.0428,0.1126) (-0.0439,0.0944) (-0.0419,0.0946) (-0.0437,0.0844) (-0.0416,0.0855) (-0.0439,0.0781) (-0.0416,0.0828) (-0.0411,0.0737) (-0.0397,0.1192) (-0.0395,0.1067) (-0.0388,0.106) (-0.0374,0.0978) (-0.038,0.0911) (-0.0344,0.0879) (-0.034,0.1034) (-0.0345,0.1102) (-0.0335,0.1136) (-0.0335,0.1173) (-0.0337,0.1234) (-0.0314,0.1104) (-0.0293,0.0978) (-0.0285,0.1174) (-0.0293,0.0902) (-0.0277,0.1028) (-0.027,0.1007) (-0.0259,0.1244) (-0.0262,0.1155) (-0.0254,0.1197) (-0.0244,0.1102) (-0.0274,0.0871) (-0.0262,0.0892) (-0.025,0.0828) (-0.0277,0.0702) (-0.0262,0.0739) (-0.0239,0.1104) (-0.0224,0.1243) (-0.0205,0.1139) (-0.0225,0.0804) (-0.0227,0.0602) (-0.0219,0.0423) (-0.021,0.0673) (-0.0197,0.0734) (-0.0193,0.0766) (-0.0173,0.0667) (-0.0167,0.0771) (-0.0193,0.13) (-0.0193,0.137) (-0.0185,0.1176) (-0.0181,0.1207) (-0.0201,0.1181) (-0.0215,0.1007) (-0.0215,0.0955) (-0.0162,0.0818) (-0.0155,0.1353) (-0.0124,0.137) (-0.0111,0.1202) (-0.0108,0.1178) (-0.012,0.1118) (-0.0136,0.0844) (-0.0101,0.0839) (-0.0078,0.0781) (-0.0059,0.0781) (-0.008,0.0734) (-0.0047,0.1416) (-0.0016,0.1186) (0.0014,0.1202) (0.0017,0.1155) (-0.0019,0.0753) (-0.0009,0.0707) (0.0022,0.0692) (0.003,0.0718) (0.0027,0.076) (0.0022,0.0792) (0.0022,0.0618) (0.0061,0.0753) (0.0042,0.1244) (0.0047,0.1184) (0.0064,0.121) (0.0085,0.1363) (0.0104,0.1334) (0.0085,0.1255) (0.0112,0.1186) (0.0091,0.1071) (0.0096,0.0776) (0.0114,0.076) (0.0114,0.0723) (0.0125,0.0713) (0.0139,0.0781) (0.016,0.1263) (0.0171,0.1165) (0.0187,0.1176) (0.0191,0.1155) (0.0202,0.1139) (0.0183,0.0768) (0.0222,0.0597) (0.0234,0.0541) (0.0242,0.0639) (0.0245,0.1071) (0.0268,0.0781) (0.0279,0.1125) (0.0283,0.1049) (0.0306,0.0818) (0.0302,0.076) (0.0319,0.0813) (0.0333,0.0725) (0.0337,0.0844) (0.0353,0.1049) (0.0367,0.136) (0.0391,0.1049) (0.0373,0.0955) (0.0368,0.0902) (0.0376,0.0892) (0.0396,0.0839) (0.0391,0.0781) (0.0406,0.0642) (0.0425,0.1418) (0.0425,0.1125) (0.0422,0.1002) (0.0434,0.0949) (0.0437,0.1007) (0.046,0.1102) (0.0494,0.1105) (0.0488,0.1081) (0.0491,0.1065) (0.0483,0.0981) (0.048,0.0923) (0.0476,0.0692) (0.0453,0.0928) (0.0522,0.086) (0.054,0.0822) (0.0537,0.0776) (0.0563,0.1002) (0.0576,0.0902) (0.0607,0.076) (0.063,0.0849) (0.0637,0.086) (0.0746,0.0697) (0.0791,0.0792) (0.0802,0.0646) (0.0937,0.0902) (0.0971,0.0504)
(-0.012,0.1065) (-0.006,0.1085) (0,0.108) (0.006,0.1085) (0.012,0.107) (0.017,0.1055) (-0.016,0.105) (-0.003,0.1105) (0.009,0.1105)
(-0.012,0.0885) (-0.006,0.0875) (0,0.087) (0.006,0.0865) (0.012,0.0875) (0.017,0.089) (-0.016,0.0905)
(-0.021,0.1005) (-0.022,0.0955) (-0.024,0.098) (-0.027,0.1015) (-0.026,0.094) (-0.029,0.097) (-0.031,0.1005) (-0.023,0.1035) (-0.021,0.0915)
(0.022,0.1005) (0.023,0.095) (0.026,0.098) (0.028,0.1015) (0.027,0.0935) (0.031,0.0975) (0.024,0.0905) (0.023,0.104) (0.033,0.094)
(-0.028,0.0955) (-0.033,0.0935) (-0.030,0.0865) (-0.0215,0.087) (-0.0175,0.0855) (-0.011,0.1125) (-0.0055,0.113) (0.005,0.1135) (0.012,0.111) (0.016,0.109) (0.0245,0.0885) (0.0285,0.092) (0.034,0.099) (0.036,0.1015) (0.031,0.104) (-0.0365,0.1045) (-0.0315,0.1065)
};
\addplot[dots] coordinates {
(-0.0155,0.1349) (0.0106,0.1334) (-0.0437,0.1310) (-0.0195,0.1298) (-0.0496,0.1268) (-0.0487,0.1225) (-0.0463,0.1217) (-0.0335,0.1232) (-0.0258,0.1243) (-0.0218,0.1240) (0.0046,0.1243) (0.0088,0.1255) (0.0163,0.1264) (0.0066,0.1212) (0.0021,0.1201) (-0.0178,0.1204) (-0.0109,0.1207) (-0.0182,0.1181) (-0.0109,0.1172) (-0.0013,0.1184) (0.0044,0.1181) (0.0114,0.1189) (0.0190,0.1189) (0.0177,0.1170) (0.0203,0.1141) (0.0276,0.1128) (0.0426,0.1126) (0.0465,0.1104) (0.0498,0.1109) (0.0486,0.1075) (0.0493,0.1065)
(-0.0397,0.1191) (-0.0443,0.1175) (-0.0337,0.1172) (-0.0285,0.1175) (-0.0335,0.1139) (-0.0275,0.1135) (-0.0251,0.1156) (-0.0204,0.1141) (-0.0427,0.1128) (-0.0451,0.1102) (-0.0500,0.1077) (-0.0487,0.1075) (-0.0394,0.1070) (-0.0345,0.1102) (-0.0312,0.1104) (-0.0242,0.1102) (-0.0118,0.1123) (-0.0056,0.1139) (-0.0023,0.1147) (0.0011,0.1149) (0.0031,0.1128) (0.0057,0.1107) (0.0097,0.1091) (0.0123,0.1065) (0.0190,0.1067) (0.0250,0.1070) (0.0283,0.1046) (0.0210,0.1044) (0.0356,0.1049) (0.0389,0.1051)
(-0.0554,0.1044) (-0.0543,0.0947) (-0.0474,0.1017) (-0.0471,0.0996) (-0.0445,0.0981) (-0.0454,0.0944) (-0.0421,0.0947) (-0.0374,0.0981) (-0.0341,0.1033) (-0.0381,0.0915) (-0.0341,0.0881) (-0.0295,0.1033) (-0.0262,0.1039) (-0.0299,0.0983) (-0.0255,0.0947) (-0.0281,0.0907) (-0.0248,0.0886)
(0.0323,0.0991) (0.0376,0.0991) (0.0429,0.1007) (0.0442,0.0996) (0.0489,0.0981) (0.0568,0.1004) (0.0323,0.0949) (0.0336,0.0933) (0.0362,0.0949) (0.0435,0.0949) (0.0455,0.0928) (0.0489,0.0923) (0.0575,0.0907) (0.0369,0.0896) (0.0336,0.0918) (0.0283,0.0918) (0.0256,0.0896)
(-0.0441,0.0860) (-0.0408,0.0870) (-0.0414,0.0844) (-0.0437,0.0797) (-0.0410,0.0751) (-0.0275,0.0891) (-0.0248,0.0831) (-0.0222,0.0807) (-0.0195,0.0875) (-0.0165,0.0818) (-0.0135,0.0844) (-0.0100,0.0839) (-0.0078,0.0781) (-0.0056,0.0781) (-0.0078,0.0734) (-0.0009,0.0755) (-0.0007,0.0797) (-0.0007,0.0833) (0.0031,0.0791) (0.0031,0.0755) (0.0066,0.0751) (0.0097,0.0776) (0.0123,0.0765) (0.0130,0.0781) (0.0143,0.0791) (0.0190,0.0770) (0.0117,0.0833) (0.0163,0.0844) (0.0203,0.0854) (0.0236,0.0844) (0.0263,0.0854) (0.0283,0.0818) (0.0289,0.0802) (0.0272,0.0781) (0.0307,0.0786) (0.0342,0.0846) (0.0400,0.0839) (0.0393,0.0784) (0.0336,0.0728) (0.0539,0.0791) (0.0544,0.0823) (0.0526,0.0860)
(-0.0279,0.0709) (-0.0258,0.0741) (-0.0195,0.0765) (-0.0169,0.0770) (-0.0208,0.0676) (-0.0171,0.0670) (-0.0007,0.0712) (0.0024,0.0691) (0.0031,0.0718) (0.0123,0.0721) (0.0130,0.0712) (0.0243,0.0639) (0.0409,0.0646) (0.0479,0.0688) (0.0571,0.0905) (0.0581,0.0765)
(0.0204,0.0975) (0.020,0.1030) (0.0112,0.1060) (0.002,0.1085) (-0.0072,0.1060) (-0.016,0.1030) (-0.0164,0.0975) (-0.016,0.0920) (-0.0072,0.0890) (0.002,0.0865) (0.0112,0.0890) (0.020,0.0920)
};
\addplot[dots] coordinates {
(-0.013,0.0975) (-0.010,0.0975) (-0.007,0.0975) (-0.004,0.0975) (-0.001,0.0975) (0.002,0.0975) (0.005,0.0975) (0.008,0.0975) (0.011,0.0975) (0.014,0.0975) (0.017,0.0975)
(-0.0115,0.0993) (-0.0085,0.0993) (-0.0055,0.0993) (-0.0025,0.0993) (0.0005,0.0993) (0.0035,0.0993) (0.0065,0.0993) (0.0095,0.0993) (0.0125,0.0993) (0.0155,0.0993)
(-0.0115,0.0957) (-0.0085,0.0957) (-0.0055,0.0957) (-0.0025,0.0957) (0.0005,0.0957) (0.0035,0.0957) (0.0065,0.0957) (0.0095,0.0957) (0.0125,0.0957) (0.0155,0.0957)
(-0.010,0.1011) (-0.007,0.1011) (-0.004,0.1011) (-0.001,0.1011) (0.002,0.1011) (0.005,0.1011) (0.008,0.1011) (0.011,0.1011) (0.014,0.1011)
(-0.010,0.0939) (-0.007,0.0939) (-0.004,0.0939) (-0.001,0.0939) (0.002,0.0939) (0.005,0.0939) (0.008,0.0939) (0.011,0.0939) (0.014,0.0939)
(-0.0085,0.1029) (-0.0055,0.1029) (-0.0025,0.1029) (0.0005,0.1029) (0.0035,0.1029) (0.0065,0.1029) (0.0095,0.1029) (0.0125,0.1029)
(-0.0085,0.0921) (-0.0055,0.0921) (-0.0025,0.0921) (0.0005,0.0921) (0.0035,0.0921) (0.0065,0.0921) (0.0095,0.0921) (0.0125,0.0921)
(-0.004,0.1047) (-0.001,0.1047) (0.002,0.1047) (0.005,0.1047) (0.008,0.1047)
(-0.004,0.0903) (-0.001,0.0903) (0.002,0.0903) (0.005,0.0903) (0.008,0.0903)
};
\addplot[fitl] coordinates {(-0.0985,0.1121) (0.0972,0.0824)};
\node[ann] at (axis cs:-0.0646,0.0525) {b = −0.153};
\node[ann] at (axis cs:-0.0631,0.0465) {(0.032)};
\end{axis}
% ---------------- titles and logos
\node[font=\fontsize{14.3}{16}\selectfont, anchor=base] at (146.4pt,463.85pt) {Earnings};
\node[font=\fontsize{14.3}{16}\selectfont, anchor=base] at (450pt,463.85pt) {Employment};
\begin{scope}
\clip (0pt,209.9pt) rectangle (302pt,240pt);
\node[font=\fontsize{14.3}{16}\selectfont, anchor=base] at (146.4pt,210.35pt) {Five-Year Mortality};
\end{scope}
\node[font=\fontsize{14.3}{16}\selectfont, anchor=base] at (450pt,210.35pt) {Five-Year Home Foreclosure};
\node[fill=black, text=white, inner sep=0pt, minimum width=28pt, minimum height=7pt, font=\hv\bfseries\fontsize{7.5}{7.5}\selectfont] at (281.5pt,233.5pt) {stata};
\node[fill=black, text=white, inner sep=0pt, minimum width=27pt, minimum height=7pt, font=\hv\bfseries\fontsize{7.5}{7.5}\selectfont] at (586pt,233.5pt) {stata};
\pgfresetboundingbox
\useasboundingbox (0pt,0pt) rectangle (604.5pt,478pt);
\end{tikzpicture}
\end{document}
